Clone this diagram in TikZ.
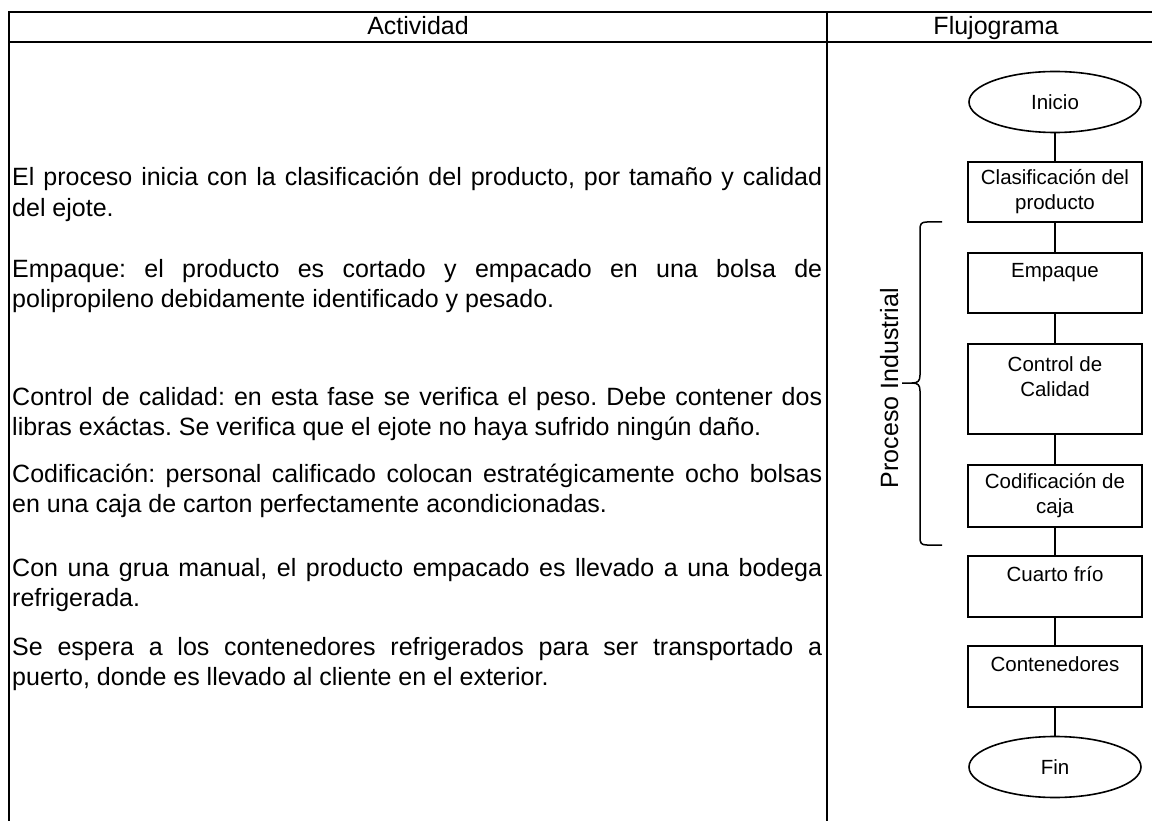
\documentclass[tikz,border=0pt]{standalone}
\usepackage{fontspec}
\setmainfont{Liberation Sans}
\usetikzlibrary{shapes.geometric}
\frenchspacing

\tikzset{
  tbl/.style={line width=2pt},
  body/.style={anchor=base west, inner sep=0pt, font=\fontsize{25}{30}\selectfont},
  head/.style={anchor=base, inner sep=0pt, font=\fontsize{25}{30}\selectfont},
  term/.style={draw, ellipse, line width=1.6pt, minimum width=172pt, minimum height=61pt, inner sep=0pt, font=\fontsize{20.5}{25}\selectfont},
  proc/.style={draw, rectangle, line width=1.7pt, minimum width=174pt, inner sep=3pt, align=center, font=\fontsize{20.5}{25}\selectfont},
  conn/.style={line width=1.4pt},
}
\newcommand{\jline}[1]{\makebox[810pt][s]{#1}}

\begin{document}
\begin{tikzpicture}[x=1pt,y=-1pt]
\useasboundingbox (0,0) rectangle (1152,821);
\fill[white] (0,0) rectangle (1152,821);

% table
\draw[tbl] (9,821) -- (9,12) -- (1152,12);
\draw[tbl] (9,42) -- (1152,42);
\draw[tbl] (827,12) -- (827,821);

\node[head] (hact) at (418,35) {Actividad};
\node[head] (hflu) at (996,35) {Flujograma};

% activity text
\node[body] (p1a) at (12,186) {\jline{El proceso inicia con la clasificación del producto, por tamaño y calidad}};
\node[body] (p1b) at (12,217) {del ejote.};
\node[body] (p2a) at (12,278) {\jline{Empaque: el producto es cortado y empacado en una bolsa de}};
\node[body] (p2b) at (12,308) {polipropileno debidamente identificado y pesado.};
\node[body] (p3a) at (12,405) {\jline{Control de calidad: en esta fase se verifica el peso. Debe contener dos}};
\node[body] (p3b) at (12,435) {libras exáctas. Se verifica que el ejote no haya sufrido ningún daño.};
\node[body] (p4a) at (12,482) {\jline{Codificación: personal calificado colocan estratégicamente ocho bolsas}};
\node[body] (p4b) at (12,512) {en una caja de carton perfectamente acondicionadas.};
\node[body] (p5a) at (12,576) {\jline{Con una grua manual, el producto empacado es llevado a una bodega}};
\node[body] (p5b) at (12,606) {refrigerada.};
\node[body] (p6a) at (12,655) {\jline{Se espera a los contenedores refrigerados para ser transportado a}};
\node[body] (p6b) at (12,685) {puerto, donde es llevado al cliente en el exterior.};

% flowchart
\node[term] (ini) at (1055,102) {Inicio};
\node[proc, minimum height=60pt] (clas) at (1055,192) {Clasificación del\\producto};
\node[proc, minimum height=60pt] (emp) at (1055,283) {Empaque\\\mbox{}};
\node[proc, minimum height=90pt] (ctrl) at (1055,389) {Control de\\Calidad\\\mbox{}};
\node[proc, minimum height=62pt] (cod) at (1055,496) {Codificación de\\caja};
\node[proc, minimum height=61pt] (cua) at (1055,586.5) {Cuarto frío\\\mbox{}};
\node[proc, minimum height=61pt] (cont) at (1055,676.5) {Contenedores\\\mbox{}};
\node[term] (fin) at (1055,767) {Fin};

\draw[conn] (ini.south) -- (clas.north);
\draw[conn] (clas.south) -- (emp.north);
\draw[conn] (emp.south) -- (ctrl.north);
\draw[conn] (ctrl.south) -- (cod.north);
\draw[conn] (cod.south) -- (cua.north);
\draw[conn] (cua.south) -- (cont.north);
\draw[conn] (cont.south) -- (fin.north);

% brace
\coordinate (bT) at (942,222);
\coordinate (bB) at (942,545);
\coordinate (bM) at (902,383);
\draw[conn, line width=1.5pt] (bT) -- (927,222) .. controls (921,222) and (920,224) .. (920,230) -- (920,375) .. controls (920,381) and (918,383) .. (912,383) -- (bM);
\draw[conn, line width=1.5pt] (912,383) .. controls (918,383) and (920,385) .. (920,391) -- (920,537) .. controls (920,543) and (921,545) .. (927,545) -- (bB);

\node[anchor=base, rotate=90, inner sep=0pt, font=\fontsize{25}{30}\selectfont] (pind) at (898,388) {Proceso Industrial};
\end{tikzpicture}
\end{document}
